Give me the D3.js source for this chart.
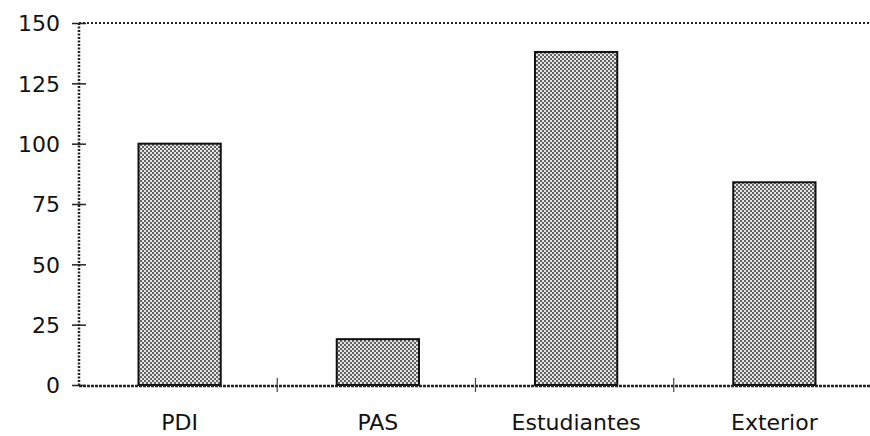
<!DOCTYPE html>
<html>
<head>
<meta charset="utf-8">
<script src="https://cdn.jsdelivr.net/npm/d3@7"></script>
<style>
  body { margin: 0; background: #fff; }
  text { font-family: "DejaVu Sans", Verdana, sans-serif; fill: #111; }
</style>
</head>
<body>
<svg class="svg"></svg>
<script>
const categories = ["PDI", "PAS", "Estudiantes", "Exterior"];
const values = [100, 19, 138, 84];
const yTicks = [0, 25, 50, 75, 100, 125, 150];

const width = 870, height = 436;
const margin = { top: 23, right: 0, bottom: 51, left: 79 };

const svg = d3.select(".svg").attr("width", width).attr("height", height);

// stipple fill like the old printout
const defs = svg.append("defs");
const pat = defs.append("pattern")
  .attr("id", "dots")
  .attr("width", 4).attr("height", 4)
  .attr("patternUnits", "userSpaceOnUse");
pat.append("rect").attr("width", 4).attr("height", 4).attr("fill", "#e6e6e6");
pat.append("rect").attr("width", 2).attr("height", 2).attr("fill", "#636363");
pat.append("rect").attr("x", 2).attr("y", 2).attr("width", 2).attr("height", 2).attr("fill", "#636363");

const x = d3.scaleBand()
  .domain(categories)
  .range([margin.left + 2, margin.left + 2 + 4 * 198])
  .paddingInner(0.585)
  .paddingOuter(0.29);

const y = d3.scaleLinear()
  .domain([0, 150])
  .range([height - margin.bottom, margin.top]);

const x0 = margin.left, x1 = width - margin.right;

// top dotted frame line
svg.append("line")
  .attr("x1", x0).attr("x2", x1)
  .attr("y1", y(150)).attr("y2", y(150))
  .attr("stroke", "#222").attr("stroke-width", 2)
  .attr("stroke-dasharray", "2,2");

// bars
svg.selectAll("rect.bar")
  .data(values)
  .join("rect")
  .attr("class", "bar")
  .attr("x", (d, i) => x(categories[i]))
  .attr("y", d => y(d))
  .attr("width", x.bandwidth())
  .attr("height", d => y(0) - y(d))
  .attr("fill", "url(#dots)")
  .attr("stroke", "#111")
  .attr("stroke-width", 2);

// y axis
const yAxis = svg.append("g")
  .attr("transform", `translate(${x0},0)`)
  .call(d3.axisLeft(y).tickValues(yTicks).tickSize(7).tickPadding(12));
yAxis.select(".domain").remove();
yAxis.selectAll(".tick line").attr("x2", 7).attr("x1", -7).attr("stroke", "#222").attr("stroke-width", 1.5);
yAxis.selectAll(".tick text")
  .style("font-size", "22px")
  .style("font-family", "'DejaVu Sans', sans-serif")
  .attr("fill", "#111").attr("dy", "0.36em");

svg.append("line")
  .attr("x1", x0).attr("x2", x0)
  .attr("y1", y(150)).attr("y2", y(0))
  .attr("stroke", "#222").attr("stroke-width", 2.5)
  .attr("stroke-dasharray", "2,1.5");

// x axis
svg.append("line")
  .attr("x1", x0).attr("x2", x1)
  .attr("y1", y(0) + 1).attr("y2", y(0) + 1)
  .attr("stroke", "#222").attr("stroke-width", 2.5)
  .attr("stroke-dasharray", "3,1");

const bandStep = x.step();
svg.selectAll("line.xtick")
  .data(d3.range(categories.length))
  .join("line")
  .attr("class", "xtick")
  .attr("x1", i => x0 + (i + 1) * bandStep)
  .attr("x2", i => x0 + (i + 1) * bandStep)
  .attr("y1", y(0) - 7).attr("y2", y(0) + 7)
  .attr("stroke", "#444").attr("stroke-width", 1.2);

svg.selectAll("text.xlabel")
  .data(categories)
  .join("text")
  .attr("class", "xlabel")
  .attr("x", d => x(d) + x.bandwidth() / 2)
  .attr("y", 430)
  .attr("text-anchor", "middle")
  .style("font-size", "22px")
  .text(d => d);
</script>
</body>
</html>
